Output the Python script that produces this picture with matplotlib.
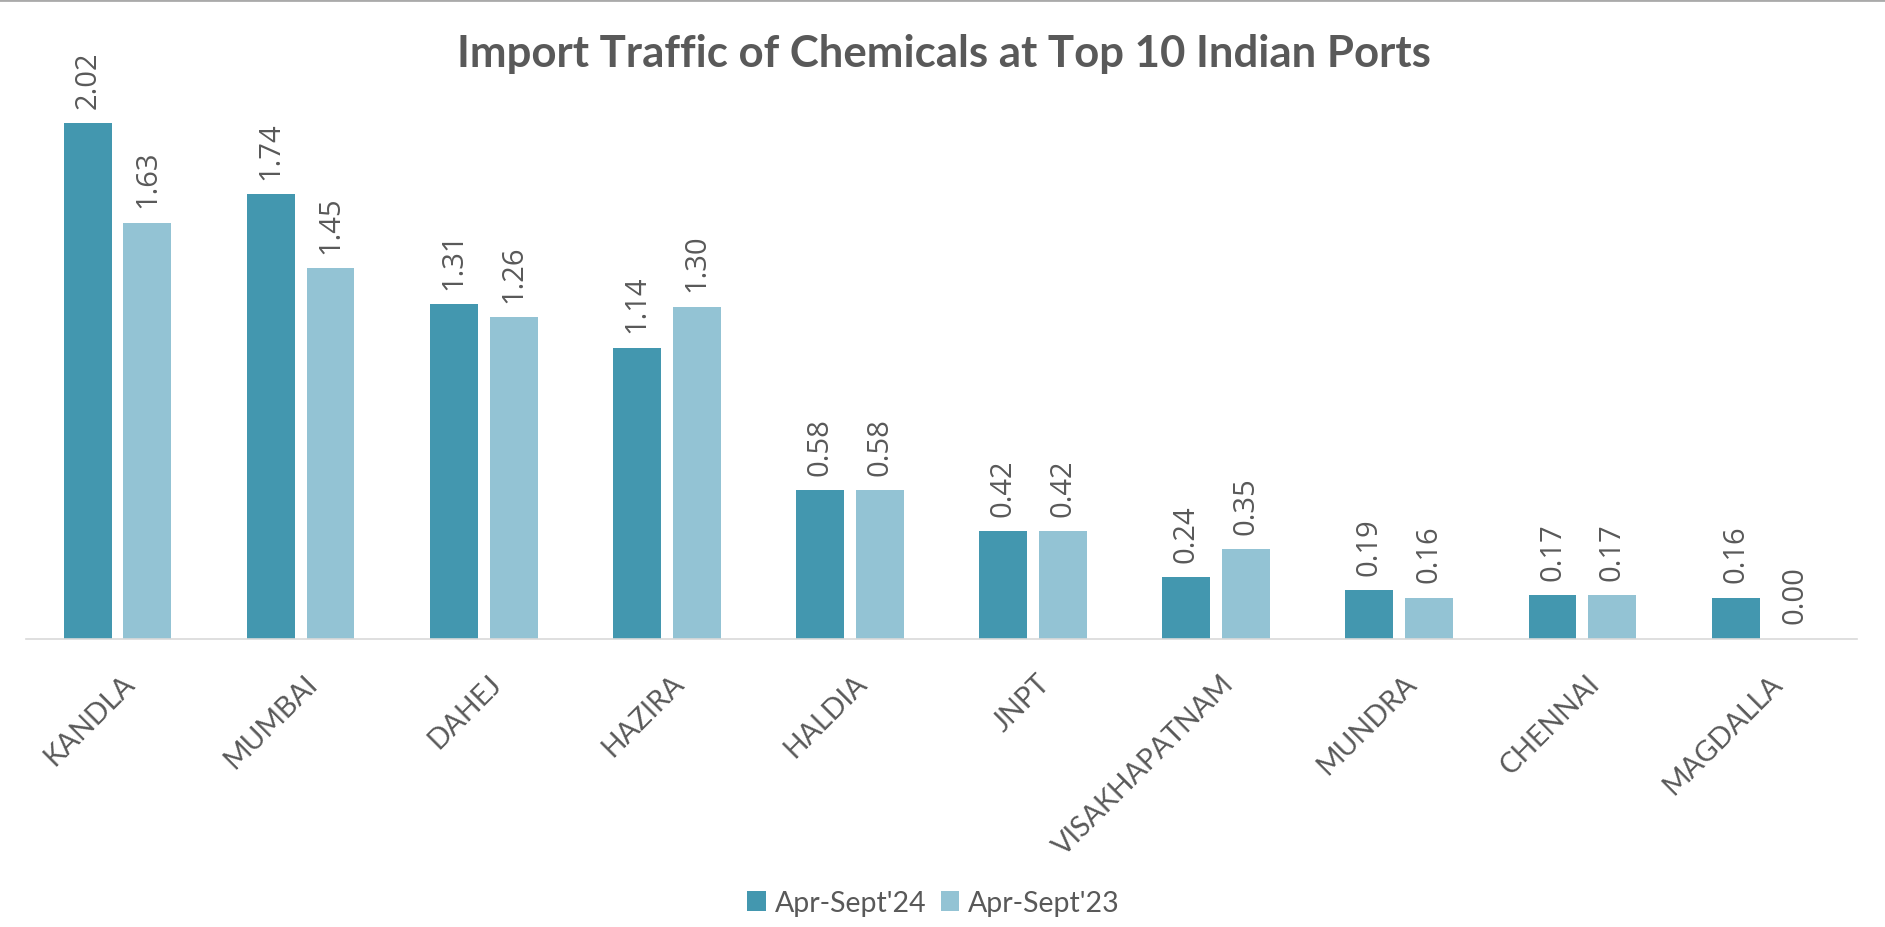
import matplotlib
matplotlib.use("Agg")
import matplotlib.pyplot as plt
import numpy as np
from matplotlib.transforms import ScaledTranslation
from matplotlib.lines import Line2D

ports = ["KANDLA", "MUMBAI", "DAHEJ", "HAZIRA", "HALDIA", "JNPT",
         "VISAKHAPATNAM", "MUNDRA", "CHENNAI", "MAGDALLA"]
series_names = ["Apr-Sept'24", "Apr-Sept'23"]
vals_24 = [2.02, 1.74, 1.31, 1.14, 0.58, 0.42, 0.24, 0.19, 0.17, 0.16]
vals_23 = [1.63, 1.45, 1.26, 1.30, 0.58, 0.42, 0.35, 0.16, 0.17, 0.00]
title = "Import Traffic of Chemicals at Top 10 Indian Ports"

C24 = "#4397AF"
C23 = "#93C3D4"
TXT = "#595959"

plt.rcParams['font.family'] = ['Lato', 'DejaVu Sans']

W, H = 1885, 928
DPI = 100
fig = plt.figure(figsize=(W / DPI, H / DPI), dpi=DPI)
ax = fig.add_axes([26 / W, (H - 639.5) / H, 1831 / W, 638 / H])

x = np.arange(len(ports))
bw = 0.262
off = 0.163
b1 = ax.bar(x - off, vals_24, bw, color=C24, label=series_names[0], zorder=2)
b2 = ax.bar(x + off, vals_23, bw, color=C23, label=series_names[1], zorder=2)

ax.set_xlim(-0.5, len(ports) - 0.5)
ax.set_ylim(0, 2.5)
for s in ["left", "right", "top"]:
    ax.spines[s].set_visible(False)
ax.spines["bottom"].set_color("#D9D9D9")
ax.spines["bottom"].set_linewidth(1.2)
ax.set_yticks([])
ax.set_xticks([])

for bars, vals in ((b1, vals_24), (b2, vals_23)):
    for rect, v in zip(bars, vals):
        ax.annotate(f"{v:.2f}", (rect.get_x() + rect.get_width() / 2, v),
                    xytext=(0, 11), textcoords="offset points",
                    ha="center", va="bottom", rotation=90,
                    fontsize=21, color=TXT, annotation_clip=False,
                    family=["Open Sans", "DejaVu Sans"])

tr = ax.get_xaxis_transform() + ScaledTranslation(13 / DPI, -40 / DPI, fig.dpi_scale_trans)
for i, name in enumerate(ports):
    ax.text(i, 0, name, transform=tr, rotation=45, rotation_mode="anchor",
            ha="right", va="center", fontsize=20.5, color=TXT)

fig.text(944 / W, 1 - 66.5 / H, title, ha="center", va="baseline",
         fontsize=31.5, fontweight="bold", color=TXT)

fig.legend(handles=[b1, b2], labels=series_names, loc="center",
           bbox_to_anchor=(933.5 / W, 1 - 904 / H), ncol=2, frameon=False,
           fontsize=20.5, labelcolor=TXT, handlelength=0.65, handleheight=0.65,
           handletextpad=0.32, columnspacing=0.5)

fig.add_artist(Line2D([0, 1], [1 - 1 / H, 1 - 1 / H], transform=fig.transFigure,
                      color="#AAAAAA", linewidth=2))

fig.savefig("out.png", dpi=DPI)
